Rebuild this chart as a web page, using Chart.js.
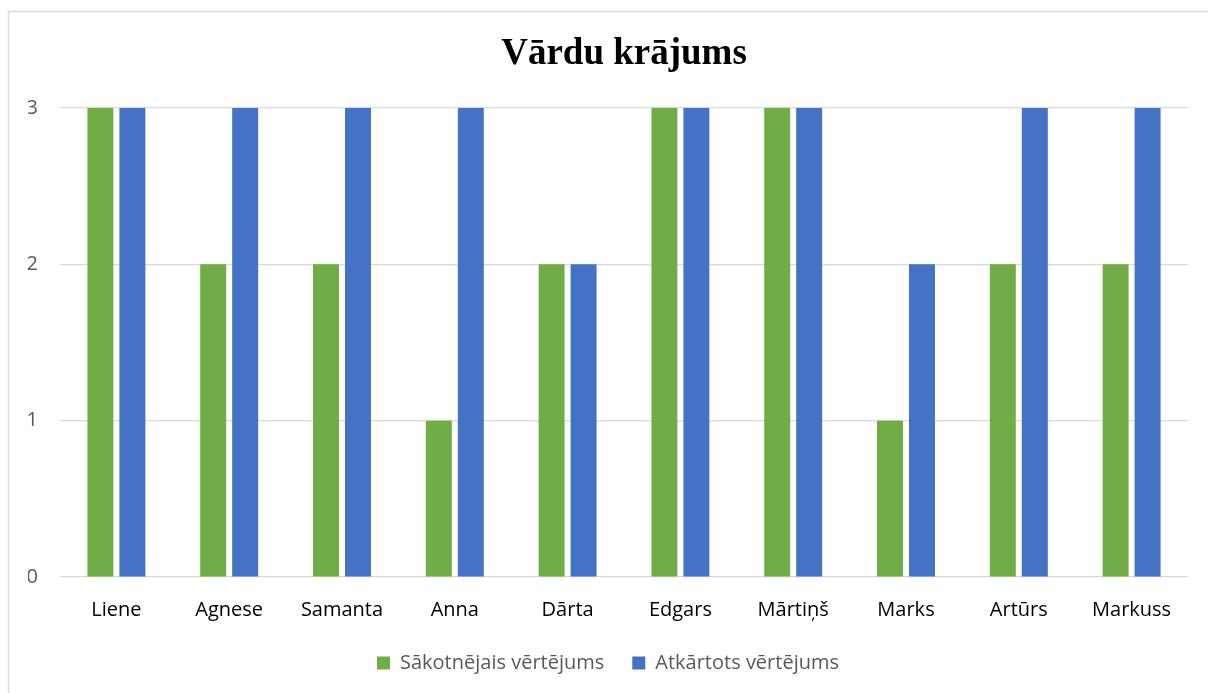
<!DOCTYPE html>
<html>
<head>
<meta charset="utf-8">
<script src="https://cdn.jsdelivr.net/npm/chart.js@4"></script>
<style>
  html, body { margin: 0; padding: 0; background: #fff; }
  #wrap { width: 1208px; height: 693px; position: relative; }
</style>
</head>
<body>
<div id="wrap"><canvas id="myChart"></canvas></div>
<script>
const categories = ["Liene", "Agnese", "Samanta", "Anna", "Dārta", "Edgars", "Mārtiņš", "Marks", "Artūrs", "Markuss"];
const initial = [3, 2, 2, 1, 2, 3, 3, 1, 2, 2];
const repeated = [3, 3, 3, 3, 2, 3, 3, 2, 3, 3];
const yTicks = [0, 1, 2, 3];

// light frame round the chart, like the office export
const frame = {
    id: "frame",
    beforeDraw(chart) {
        const ctx = chart.ctx;
        ctx.save();
        ctx.strokeStyle = "#d9d9d9";
        ctx.lineWidth = 1.5;
        ctx.strokeRect(8.5, 11.5, 1300, 800);
        ctx.restore();
    },
};

new Chart(document.getElementById("myChart"), {
    type: "bar",
    data: {
        labels: categories,
        datasets: [
            {
                label: "Sākotnējais vērtējums",
                data: initial,
                backgroundColor: "#70AD47",
                categoryPercentage: 0.567,
                barPercentage: 0.8125,
            },
            {
                label: "Atkārtots vērtējums",
                data: repeated,
                backgroundColor: "#4472C4",
                categoryPercentage: 0.567,
                barPercentage: 0.8125,
            },
        ],
    },
    options: {
        responsive: true,
        maintainAspectRatio: false,
        animation: false,
        layout: {
            padding: { left: 28, right: 20, top: 12, bottom: 10 },
        },
        scales: {
            x: {
                afterFit: (scale) => { scale.height = 48; },
                grid: { display: false, drawTicks: false },
                border: { display: false },
                ticks: {
                    color: "#000",
                    padding: 21,
                    font: { family: "Open Sans", size: 20 },
                },
            },
            y: {
                min: 0,
                max: 3,
                afterFit: (scale) => { scale.width = 32; },
                afterBuildTicks: (scale) => {
                    scale.ticks = yTicks.map((v) => ({ value: v }));
                },
                grid: { color: "#d9d9d9", lineWidth: 1.2, drawTicks: false },
                border: { display: false },
                ticks: {
                    color: "#595959",
                    padding: 22,
                    font: { family: "Open Sans", size: 20 },
                },
            },
        },
        plugins: {
            title: {
                display: true,
                fullSize: false,
                text: "Vārdu krājums",
                color: "#000",
                font: { family: "Liberation Serif", size: 37, weight: "bold" },
                padding: { top: 20, bottom: 31.5 },
            },
            legend: {
                position: "bottom",
                labels: {
                    color: "#595959",
                    boxWidth: 13,
                    boxHeight: 13,
                    padding: 28,
                    font: { family: "Open Sans", size: 20 },
                },
            },
            tooltip: { enabled: false },
        },
    },
    plugins: [frame],
});
</script>
</body>
</html>
